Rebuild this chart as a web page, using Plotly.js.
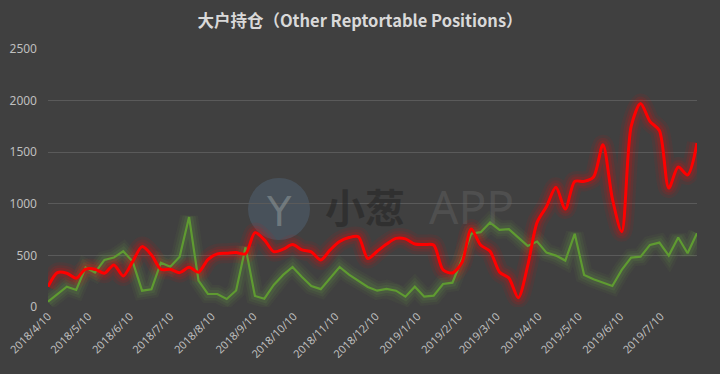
<!DOCTYPE html>
<html>
<head>
<meta charset="utf-8">
<script src="https://cdn.plot.ly/plotly-3.0.1.min.js"></script>
<style>html,body{margin:0;padding:0;background:#404040;}#chart{width:720px;height:374px;}</style>
</head>
<body>
<div id="chart"></div>
<script>
var dates = [
"2018-04-10","2018-04-17","2018-04-24","2018-05-01","2018-05-08","2018-05-15","2018-05-22","2018-05-29",
"2018-06-05","2018-06-12","2018-06-19","2018-06-26","2018-07-03","2018-07-10","2018-07-17","2018-07-24",
"2018-07-31","2018-08-07","2018-08-14","2018-08-21","2018-08-28","2018-09-04","2018-09-11","2018-09-18",
"2018-09-25","2018-10-02","2018-10-09","2018-10-16","2018-10-23","2018-10-30","2018-11-06","2018-11-13",
"2018-11-20","2018-11-27","2018-12-04","2018-12-11","2018-12-18","2018-12-25",
"2019-01-01","2019-01-08","2019-01-15","2019-01-22","2019-01-29","2019-02-05","2019-02-12","2019-02-19",
"2019-02-26","2019-03-05","2019-03-12","2019-03-19","2019-03-26","2019-04-02","2019-04-09","2019-04-16",
"2019-04-23","2019-04-30","2019-05-07","2019-05-14","2019-05-21","2019-05-28","2019-06-04","2019-06-11",
"2019-06-18","2019-06-25","2019-07-02","2019-07-09","2019-07-16","2019-07-23","2019-07-30","2019-08-06"];

var redSeries = [197,333,327,279,366,366,327,408,301,440,585,505,366,366,333,385,337,460,515,521,
527,515,721,650,537,560,605,553,534,456,553,634,673,680,470,540,610,665,660,610,
605,600,360,330,430,755,600,540,340,280,90,400,820,974,1160,949,1217,1217,1259,1573,
1050,730,1750,1971,1799,1710,1152,1356,1280,1589];

var greenSeries = [51,124,197,165,382,333,456,479,541,440,158,172,430,391,488,871,255,126,126,78,
160,578,107,80,214,311,388,290,204,173,279,388,314,258,194,158,175,158,100,197,
100,110,223,236,460,710,725,818,748,754,677,592,634,527,498,450,709,311,269,236,
204,359,479,488,602,624,498,673,521,715];

var tickDates = ["2018-04-10","2018-05-10","2018-06-10","2018-07-10","2018-08-10","2018-09-10",
"2018-10-10","2018-11-10","2018-12-10","2019-01-10","2019-02-10","2019-03-10","2019-04-10",
"2019-05-10","2019-06-10","2019-07-10"];
var tickLabels = ["2018/4/10","2018/5/10","2018/6/10","2018/7/10","2018/8/10","2018/9/10",
"2018/10/10","2018/11/10","2018/12/10","2019/1/10","2019/2/10","2019/3/10","2019/4/10",
"2019/5/10","2019/6/10","2019/7/10"];

var yTicks = [0,500,1000,1500,2000,2500];

var traces = [];
function glow(y, rgb, shape, widths, alphas){
  for (var k=0;k<widths.length;k++){
    traces.push({x:dates,y:y,type:'scatter',mode:'lines',hoverinfo:'skip',
      line:{color:'rgba('+rgb+','+alphas[k]+')',width:widths[k],shape:shape,smoothing:0.8}});
  }
}
glow(greenSeries,'112,173,71','linear',[18,13,8],[0.06,0.09,0.13]);
glow(redSeries,'255,0,0','spline',[20,14,9],[0.07,0.10,0.15]);
traces.push({x:dates,y:greenSeries,type:'scatter',mode:'lines',line:{color:'#5f9b31',width:2.2,shape:'linear'},name:'green'});
traces.push({x:dates,y:redSeries,type:'scatter',mode:'lines',line:{color:'#ff0000',width:3,shape:'spline',smoothing:0.8},name:'red'});

var layout = {
  width:720,height:374,
  paper_bgcolor:'#404040',plot_bgcolor:'#404040',
  margin:{l:48,r:23,t:49,b:67},
  showlegend:false,hovermode:false,
  title:{text:'<b>大户持仓（Other Reptortable Positions）</b>',x:0.5,xanchor:'center',y:0.943,yanchor:'middle',
    font:{family:'"Noto Sans CJK SC","Noto Sans",sans-serif',size:16.5,color:'#d9d9d9'}},
  xaxis:{type:'date',range:['2018-04-10','2019-08-06'],tickmode:'array',tickvals:tickDates,ticktext:tickLabels,
    tickangle:-45,showgrid:false,zeroline:false,showline:false,ticks:'',
    tickfont:{family:'"Noto Sans","Open Sans",sans-serif',size:11,color:'#bfbfbf'}},
  yaxis:{range:[0,2500],tickmode:'array',tickvals:yTicks,showgrid:true,gridcolor:'#5a5a5a',gridwidth:1,
    zeroline:false,showline:false,ticks:'',ticklabelstandoff:10,
    tickfont:{family:'"Noto Sans","Open Sans",sans-serif',size:12,color:'#bfbfbf'}},
  shapes:[{type:'circle',xref:'paper',yref:'paper',x0:(248-48)/649,x1:(310-48)/649,y0:(307-240)/258,y1:(307-178)/258,
    fillcolor:'rgba(90,115,140,0.35)',line:{width:0},layer:'below'}],
  annotations:[
    {xref:'paper',yref:'paper',x:(279-48)/649,y:(307-212)/258,text:'Y',showarrow:false,
     font:{family:'DejaVu Sans',size:40,color:'rgba(150,160,160,0.5)'}},
    {xref:'paper',yref:'paper',x:(365-48)/649,y:(307-206)/258,xanchor:'center',text:'<b>小葱</b>',showarrow:false,
     font:{family:'"Noto Sans CJK SC"',size:40,color:'rgba(38,38,38,0.6)'}},
    {xref:'paper',yref:'paper',x:(472-48)/649,y:(307-206)/258,xanchor:'center',text:'APP',showarrow:false,
     font:{family:'"Noto Sans",sans-serif',size:46,color:'rgba(110,110,110,0.35)'}}
  ]
};
Plotly.newPlot('chart',traces,layout,{staticPlot:true,displayModeBar:false});
</script>
</body>
</html>
